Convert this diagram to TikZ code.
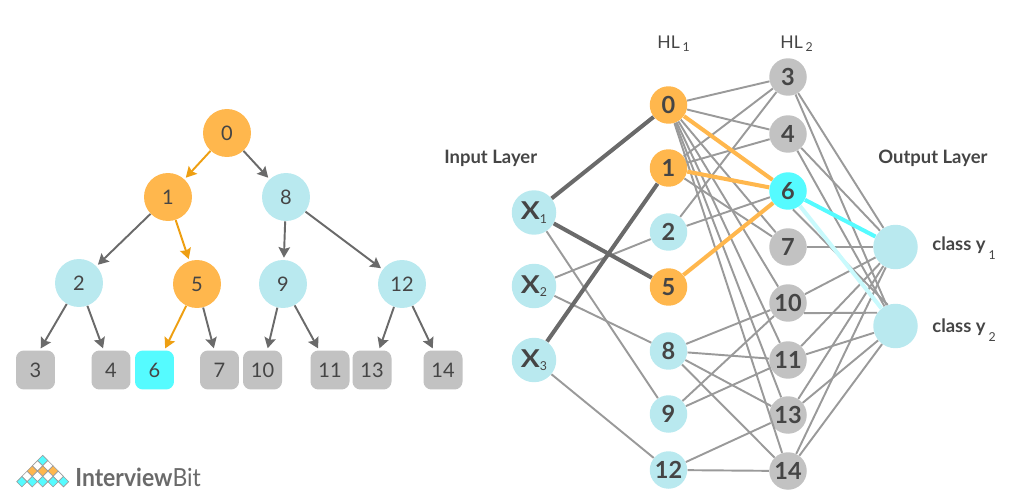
\documentclass[tikz,border=0pt]{standalone}
\usepackage{fontspec}
\setmainfont{Lato}
\usetikzlibrary{arrows.meta}
\definecolor{txtgray}{HTML}{454545}
\definecolor{pale}{HTML}{B9E9EF}
\definecolor{amber}{HTML}{FFB74D}
\definecolor{leafgray}{HTML}{C2C2C2}
\definecolor{aqua}{HTML}{55FBFF}
\definecolor{paleaqua}{HTML}{C9FAFD}
\definecolor{wiregray}{HTML}{9A9A9A}
\definecolor{darkwire}{HTML}{6A6A6A}
\definecolor{arrowamber}{HTML}{EE9F12}
\newcommand{\px}[1]{\fontsize{#1}{#1}\selectfont}
\newcommand{\xlabel}[1]{\scalebox{1.15}[1]{\px{14}\bfseries X}\raisebox{-2pt}{\px{7}#1}}
\newcommand{\subnum}[2]{\raisebox{#1}{\px{7}\mdseries #2}}
\tikzset{
  treenode/.style={circle,inner sep=0pt,minimum size=0.96cm,text=txtgray,font=\px{11.4}},
  leafnode/.style={rectangle,rounded corners=4.5pt,inner sep=0pt,minimum size=0.78cm,text=txtgray,font=\px{11.4}},
  netnode/.style={circle,inner sep=0pt,minimum size=0.75cm,text=txtgray,font=\px{13.4}\bfseries},
  bignode/.style={circle,inner sep=0pt,minimum size=0.89cm,fill=pale,text=txtgray},
  caption/.style={text=txtgray,inner sep=0pt,font=\px{10.5}\bfseries},
  treearrow/.style={-{Stealth[length=6pt,width=6.5pt,inset=1pt]},line width=1.1pt,darkwire,shorten >=1.1pt},
  patharrow/.style={-{Stealth[length=6pt,width=6.5pt,inset=1pt]},line width=1.1pt,arrowamber,shorten >=1.1pt},
  wire/.style={line width=1.1pt,wiregray},
  heavy/.style={line width=2.3pt,darkwire},
  litwire/.style={line width=2.3pt}
}
\begin{document}
\begin{tikzpicture}[x=0.02cm,y=-0.02cm]
\useasboundingbox (0,0) rectangle (1024,500);
% tree
\foreach \n/\x/\y/\c in {0/227/133/amber,1/168/197/amber,8/286/197/pale,2/79/283/pale,5/197/284/amber,9/283/284/pale,12/402/284/pale}
  \node[treenode,fill=\c] (T\n) at (\x,\y) {\n};
\foreach \n/\x/\c in {3/35.5/leafgray,4/111/leafgray,6/154.5/aqua,7/219.5/leafgray,10/262.5/leafgray,11/330/leafgray,13/372/leafgray,14/443/leafgray}
  \node[leafnode,fill=\c] (L\n) at (\x,370) {\n};
\foreach \a/\b in {T0/T8,T1/T2,T8/T9,T8/T12,T5/L7,T9/L10,T9/L11,T12/L13,T12/L14,T2/L4}
  \draw[treearrow] (\a) -- (\b);
\draw[treearrow] (T2) -- (L3.78);
\foreach \a/\b in {T0/T1,T1/T5,T5/L6}
  \draw[patharrow] (\a) -- (\b);
% network
\foreach \n/\y in {1/212.5,2/286,3/360}
  \node[bignode] (X\n) at (534,\y) {\xlabel{\n}};
\foreach \n/\y/\c in {0/105/amber,1/168/amber,2/232/pale,5/287/amber,8/351/pale,9/414/pale,12/470/pale}
  \node[netnode,fill=\c] (A\n) at (668.5,\y) {\n};
\foreach \n/\y/\c in {3/77/leafgray,4/134/leafgray,6/191/aqua,7/247/leafgray,10/303/leafgray,11/360/leafgray,13/415/leafgray,14/471/leafgray}
  \node[netnode,fill=\c] (B\n) at (788,\y) {\n};
\node[bignode] (Y1) at (895.5,247) {};
\node[bignode] (Y2) at (895.5,326) {};
\foreach \a/\b in {X1/A9,X2/A2,X2/A8,X3/A12}
  \draw[wire] (\a) -- (\b);
\foreach \a/\b in {A0/B3,A0/B4,A0/B7,A0/B10,A0/B11,A0/B13,A0/B14,A1/B3,A1/B4,A1/B7,A2/B3,A2/B6,A8/B10,A8/B11,A8/B13,A8/B14,A9/B10,A9/B11,A12/B13,A12/B14}
  \draw[wire] (\a) -- (\b);
\foreach \a/\b in {B3/Y1,B3/Y2,B4/Y1,B4/Y2,B7/Y1,B10/Y1,B11/Y1,B11/Y2,B13/Y1,B13/Y2,B14/Y1,B14/Y2}
  \draw[wire] (\a) -- (\b);
\draw[wire] (B10.-32) -- (Y2.144);
\draw[wire] (B6.-75) -- (Y2.110);
\foreach \a/\b in {X1/A0,X1/A5,X3/A1}
  \draw[heavy] (\a) -- (\b);
\foreach \a in {A0,A1,A5}
  \draw[litwire,amber] (\a) -- (B6);
\draw[litwire,paleaqua] (B6) -- (Y2);
\draw[litwire,aqua] (B6) -- (Y1);
% labels
\node[caption,anchor=west] (inlabel) at (444,158.5) {Input Layer};
\node[caption,anchor=west] (outlabel) at (878,158.5) {Output Layer};
\node[caption,anchor=west,font=\px{10}] (hlone) at (657,44) {HL\,\subnum{-1.5pt}{1}};
\node[caption,anchor=west,font=\px{10}] (hltwo) at (780,44) {HL\,\subnum{-1.5pt}{2}};
\node[caption,anchor=west] (yone) at (932,248.5) {class y\,\subnum{-5pt}{1}};
\node[caption,anchor=west] (ytwo) at (932,330.5) {class y\,\subnum{-5pt}{2}};
% logo
\foreach \r/\c/\from/\to in {0/aqua/0/0,1/white/0/1,2/amber/0/2,3/white/0/3,4/aqua/0/4}
  \foreach \k in {\from,...,\to}
    \draw[fill=\c,draw=wiregray,line width=0.35pt]
      ({42.7-\r*5.2+\k*10.4},{460.5+\r*5.3-5.2}) -- ++(5.2,5.2) -- ++(-5.2,5.2) -- ++(-5.2,-5.2) -- cycle;
\node[anchor=west,inner sep=0pt,text=darkwire] (brand) at (75,477) {\scalebox{0.92}[1]{\px{14.2}\textbf{Interview}Bit}};
\end{tikzpicture}
\end{document}
